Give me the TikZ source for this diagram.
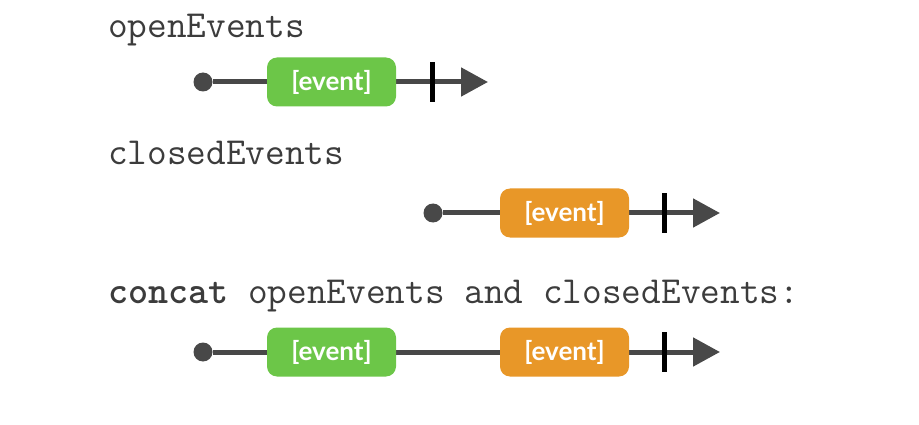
\documentclass[tikz,border=0pt]{standalone}
\usepackage{fontspec}
\newfontfamily\boxfont{Lato}
\usetikzlibrary{arrows.meta,backgrounds}
\definecolor{evgreen}{RGB}{108,198,72}
\definecolor{evorange}{RGB}{232,151,40}
\definecolor{linegray}{RGB}{72,72,72}
\definecolor{textgray}{RGB}{60,60,60}
\tikzset{
  title/.style={anchor=base west, inner sep=0, text=textgray, font=\ttfamily\fontsize{38.2}{41}\selectfont},
  dotnode/.style={circle, fill=linegray, minimum size=19pt, inner sep=0},
  evbox/.style={rounded corners=10pt, minimum width=129pt, minimum height=49pt, inner sep=0, text=white, font=\boxfont\bfseries\fontsize{26}{28}\selectfont},
  ticknode/.style={fill=black, minimum width=5pt, minimum height=40pt, inner sep=0},
  conn/.style={draw=linegray, line width=5pt},
  arr/.style={conn, -{Triangle[length=27pt,width=28pt]}}
}
\begin{document}
\begin{tikzpicture}[x=1pt,y=-1pt]
\useasboundingbox (0,0) rectangle (919,425);
% row 1
\node[title] (t1) at (108,38) {openEvents};
\node[dotnode] (d1) at (203,82) {};
\node[evbox, fill=evgreen] (g1) at (331.5,82) {[event]};
\node[ticknode] (k1) at (432,82) {};
\coordinate (e1) at (488,82);
% row 2
\node[title] (t2) at (108,165) {closedEvents};
\node[dotnode] (d2) at (433,213) {};
\node[evbox, fill=evorange] (o2) at (564.5,213) {[event]};
\node[ticknode] (k2) at (664,213) {};
\coordinate (e2) at (720,213);
% row 3
\node[title] (t3) at (108,303) {\textbf{concat} openEvents and closedEvents:};
\node[dotnode] (d3) at (203,352) {};
\node[evbox, fill=evgreen] (g3) at (331.5,352) {[event]};
\node[evbox, fill=evorange] (o3) at (564.5,352) {[event]};
\node[ticknode] (k3) at (664,352) {};
\coordinate (e3) at (720,352);
\begin{scope}[on background layer]
\draw[conn] (d1) -- (g1);
\draw[arr] (g1) -- (e1);
\draw[conn] (d2) -- (o2);
\draw[arr] (o2) -- (e2);
\draw[conn] (d3) -- (g3);
\draw[conn] (g3) -- (o3);
\draw[arr] (o3) -- (e3);
\end{scope}
\end{tikzpicture}
\end{document}
